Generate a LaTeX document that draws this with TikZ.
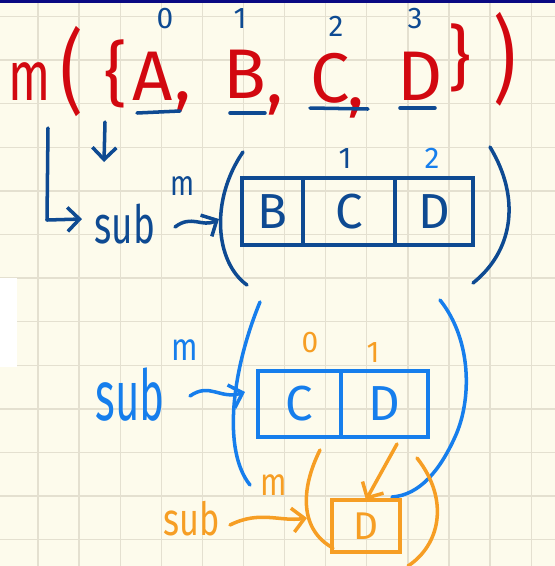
\documentclass[tikz,border=0pt]{standalone}
\usepackage{fontspec}
\setmainfont{Fira Sans}
\usetikzlibrary{positioning,arrows.meta}
\definecolor{paper}{RGB}{253,251,236}
\definecolor{gridgray}{RGB}{228,224,208}
\definecolor{topnavy}{RGB}{10,10,130}
\definecolor{inkred}{RGB}{210,8,16}
\definecolor{inkblue}{RGB}{14,74,146}
\definecolor{inksky}{RGB}{22,126,236}
\definecolor{inkorange}{RGB}{246,158,36}

\begin{document}
\begin{tikzpicture}[
    x=0.02cm, y=-0.02cm,
    hw/.style={
        inner sep=0pt,
        anchor=base,
        transform shape
    },
    redtxt/.style={
        hw,
        text=inkred,
        font=\fontsize{40}{40}\selectfont
    },
    idx/.style={
        hw,
        font=\fontsize{17}{17}\selectfont
    },
    stroke/.style={
        line width=2pt,
        line cap=round,
        line join=round
    },
    arr/.style={
        stroke,
        -{Straight Barb[length=2.4mm, width=4.8mm]}
    },
    cell/.style={
        draw,
        line width=1.8pt,
        inner sep=0pt,
        outer sep=0pt
    },
    gridline/.style={
        draw=gridgray,
        line width=0.7pt
    }
]

\useasboundingbox (0,0) rectangle (555,566);
\fill[paper] (0,0) rectangle (555,566);
\foreach \i in {0,...,12}
    \draw[gridline] ({38+41.1*\i},0) -- ({38+41.1*\i},566);
\foreach \j in {0,...,12}
    \draw[gridline] (0,{16.5+43.6*\j}) -- (555,{16.5+43.6*\j});
\fill[white] (0,278) rectangle (17,367);
\fill[topnavy] (0,0) rectangle (555,2.5);

% m({A, B, C, D})
\node[redtxt, xscale=0.7] (mred) at (30,100) {m};
\node[redtxt, yscale=1.3] (lpar) at (72,103) {(};
\node[redtxt] (lbrace) at (116,98) {\{};
\node[redtxt] (A) at (153,100) {A};
\node[redtxt] (c1) at (183,100) {,};
\node[redtxt] (B) at (245,98) {B};
\node[redtxt] (c2) at (275,103) {,};
\node[redtxt] (C) at (330,102) {C};
\node[redtxt] (c3) at (356,106) {,};
\node[redtxt] (D) at (420,100) {D};
\node[redtxt] (rbrace) at (460,82) {\}};
\node[redtxt, yscale=1.35] (rpar) at (505,92) {)};

\node[idx, text=inkblue] (i0) at (165,28) {0};
\node[idx, text=inkblue] (i1) at (240,28) {1};
\node[idx, text=inkblue] (i2) at (336,36) {2};
\node[idx, text=inkblue] (i3) at (415,28) {3};

\draw[stroke, inkblue] (137,113) -- (180,111);
\draw[stroke, inkblue] (230,113) -- (265,113);
\draw[stroke, inkblue] (310,108) -- (368,109);
\draw[stroke, inkblue] (400,108) -- (435,108);

% first call
\coordinate (lstart) at (48,128);
\coordinate (lend) at (82,219);
\coordinate (hooktop) at (105,122);
\coordinate (hookend) at (104,162);
\draw[arr, inkblue] (lstart) -- (47,220) -- (lend);
\draw[arr, inkblue] (hooktop) -- (hookend);

\node[hw, text=inkblue, xscale=0.7, font=\fontsize{30}{30}\selectfont] (sub1) at (125,243) {sub};
\node[hw, text=inkblue, xscale=0.8, font=\fontsize{20}{20}\selectfont] (m1) at (183,195) {m};

\coordinate (sq1a) at (175,227);
\coordinate (sq1b) at (219,219);
\draw[arr, inkblue] (sq1a) .. controls (192,214) and (202,228) .. (sq1b);

\draw[stroke, inkblue] (243,152) .. controls (210,200) and (215,262) .. (247,285);
\draw[stroke, inkblue] (490,147) .. controls (522,200) and (512,252) .. (473,283);

\node[cell, draw=inkblue, text=inkblue, minimum width=1.22cm, minimum height=1.34cm,
    anchor=west, font=\fontsize{28}{28}\selectfont] (bB) at (242,211.5) {B};
\node[cell, draw=inkblue, text=inkblue, minimum width=1.84cm, minimum height=1.34cm,
    right=0pt of bB, font=\fontsize{28}{28}\selectfont] (bC) {C};
\node[cell, draw=inkblue, text=inkblue, minimum width=1.56cm, minimum height=1.34cm,
    right=0pt of bC, font=\fontsize{28}{28}\selectfont] (bD) {D};

\node[idx, text=inkblue] (j1) at (345,168) {1};
\node[idx, text=inksky] (j2) at (432,168) {2};

% second call
\node[hw, text=inksky, xscale=0.6, font=\fontsize{40}{40}\selectfont] (sub2) at (130,420) {sub};
\node[hw, text=inksky, xscale=0.8, font=\fontsize{22}{22}\selectfont] (m2) at (185,360) {m};

\coordinate (sq2a) at (190,396);
\coordinate (sq2b) at (245,392);
\draw[arr, inksky] (sq2a) .. controls (210,382) and (220,400) .. (sq2b);

\draw[stroke, inksky] (260,302) .. controls (232,370) and (222,450) .. (250,485);
\draw[stroke, inksky] (440,300) .. controls (472,340) and (472,400) .. (455,437)
    .. controls (440,470) and (420,495) .. (392,497);

\node[cell, draw=inksky, text=inksky, minimum width=1.66cm, minimum height=1.32cm,
    anchor=west, font=\fontsize{28}{28}\selectfont] (kC) at (258,404) {C};
\node[cell, draw=inksky, text=inksky, minimum width=1.74cm, minimum height=1.32cm,
    right=0pt of kC, font=\fontsize{28}{28}\selectfont] (kD) {D};

\node[idx, text=inkorange] (k0) at (310,352) {0};
\node[idx, text=inkorange] (k1) at (373,362) {1};

% third call
\node[hw, text=inkorange, xscale=0.75, font=\fontsize{26}{26}\selectfont] (sub3) at (192,535) {sub};
\node[hw, text=inkorange, xscale=0.8, font=\fontsize{22}{22}\selectfont] (m3) at (274,495) {m};

\coordinate (sq3a) at (230,525);
\coordinate (sq3b) at (307,518);
\draw[arr, inkorange] (sq3a) .. controls (260,510) and (280,522) .. (sq3b);

\draw[stroke, inkorange] (320,450) .. controls (300,490) and (300,530) .. (333,548);
\draw[stroke, inkorange] (417,458) .. controls (450,500) and (440,545) .. (408,566);

\node[cell, draw=inkorange, text=inkorange, minimum width=1.36cm, minimum height=1.04cm,
    font=\fontsize{22}{22}\selectfont] (lD) at (366,526) {D};

\coordinate (otop) at (397,444);
\draw[arr, inkorange] (otop) -- (lD.north);

\end{tikzpicture}
\end{document}
